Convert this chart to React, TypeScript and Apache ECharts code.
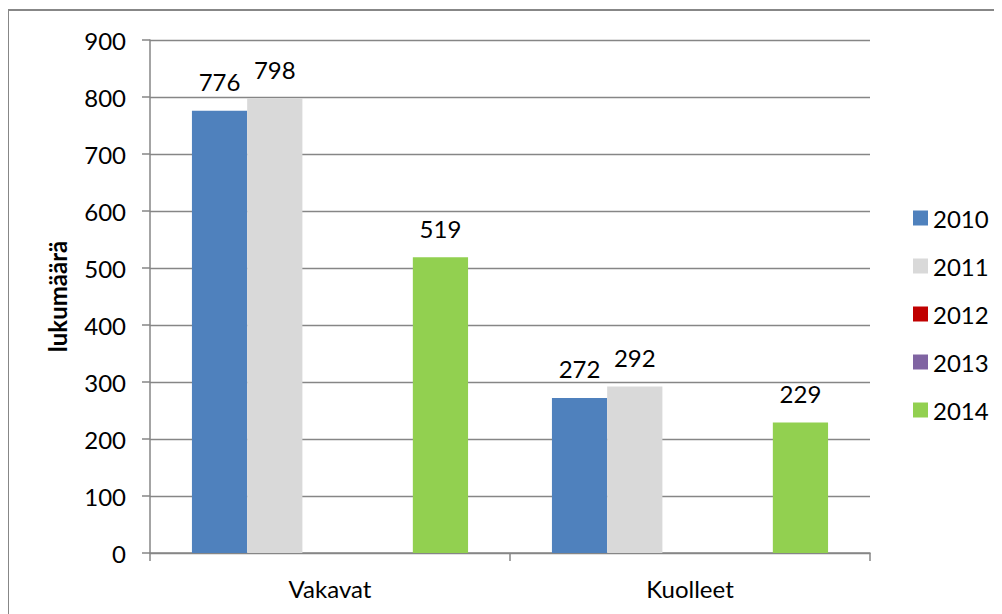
import React, { useEffect, useRef } from "react";
import * as echarts from "echarts";

const categories = ["Vakavat", "Kuolleet"];
const seriesNames = ["2010", "2011", "2012", "2013", "2014"];
const values2010 = [776, 272];
const values2011 = [798, 292];
const values2012: (number | null)[] = [null, null];
const values2013: (number | null)[] = [null, null];
const values2014 = [519, 229];
const yTicks = { min: 0, max: 900, interval: 100 };
const colors = ["#4F81BD", "#D9D9D9", "#C00000", "#8064A2", "#92D050"];

export default function App() {
  const ref = useRef<HTMLDivElement>(null);
  useEffect(() => {
    document.documentElement.style.overflow = "hidden";
    document.body.style.overflow = "hidden";
    const chart = echarts.init(ref.current!, null, { renderer: "svg" });
    const font = "Lato";
    const fs = 24;
    const allValues = [values2010, values2011, values2012, values2013, values2014];
    chart.setOption({
      animation: false,
      textStyle: { fontFamily: font },
      graphic: [
        {
          type: "rect",
          shape: { x: 0, y: 2, width: 1200, height: 800 },
          style: { fill: "none", stroke: "#878787", lineWidth: 2 },
          silent: true,
        },
      ],
      grid: { left: 142, right: 132, top: 32, bottom: 61, containLabel: false },
      legend: {
        orient: "vertical",
        left: 900,
        top: 193,
        padding: 5,
        itemWidth: 15,
        itemHeight: 15,
        itemGap: 24,
        icon: "rect",
        textStyle: { fontFamily: font, fontSize: fs, color: "#000" },
        data: seriesNames,
      },
      xAxis: {
        type: "category",
        data: categories,
        axisLine: { lineStyle: { color: "#868686", width: 1.5 } },
        axisTick: { show: true, length: 8, lineStyle: { color: "#868686", width: 1.5 } },
        axisLabel: { fontFamily: font, fontSize: fs, color: "#000", margin: 23 },
      },
      yAxis: {
        type: "value",
        min: yTicks.min,
        max: yTicks.max,
        interval: yTicks.interval,
        name: "lukumäärä",
        nameLocation: "middle",
        nameGap: 81,
        nameRotate: 90,
        nameTextStyle: { fontFamily: font, fontSize: fs, fontWeight: "bold", color: "#000" },
        axisLine: { show: true, lineStyle: { color: "#868686", width: 1.5 } },
        axisTick: { show: true, length: 8, lineStyle: { color: "#868686", width: 1.5 } },
        splitLine: { lineStyle: { color: "#868686", width: 1.3 } },
        axisLabel: { fontFamily: font, fontSize: fs, color: "#000", margin: 24 },
      },
      series: seriesNames.map((name, i) => ({
        name,
        type: "bar",
        data: allValues[i],
        barGap: "0%",
        barCategoryGap: "23.3%",
        itemStyle: { color: colors[i] },
        label: {
          show: true,
          position: "top",
          distance: 17,
          fontFamily: font,
          fontSize: fs,
          color: "#000",
        },
      })),
    });
    return () => chart.dispose();
  }, []);
  return <div ref={ref} style={{ width: 994, height: 606 }} />;
}
